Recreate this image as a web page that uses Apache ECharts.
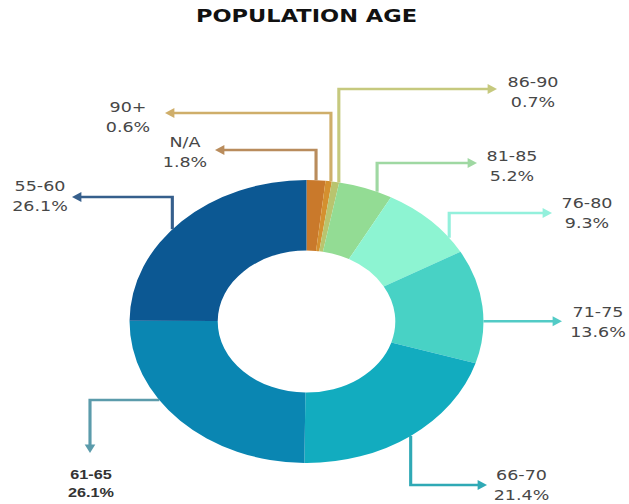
<!DOCTYPE html>
<html>
<head>
<meta charset="utf-8">
<title>Population Age</title>
<script src="https://cdn.jsdelivr.net/npm/echarts@6/dist/echarts.min.js"></script>
<style>
  html, body { margin: 0; padding: 0; background: #ffffff; overflow: hidden; }
  /* the drawing is laid out on a 503px wide canvas and stretched to 629px */
  #chart { width: 503px; height: 504px; transform: scaleX(1.2505); transform-origin: 0 0; }
</style>
</head>
<body>
<div id="chart"></div>
<script>
// ---- data ----
const chartTitle = 'POPULATION AGE';
const categories = ['N/A', '90+', '86-90', '81-85', '76-80', '71-75', '66-70', '61-65', '55-60'];
const shares     = [1.8, 0.6, 0.7, 5.2, 9.3, 13.6, 21.4, 26.1, 26.1];

// ---- styles ----
const sliceColors  = ['#c9792b', '#d4902f', '#b9c46e', '#93dc94', '#8df4d2', '#48d2c5', '#12acbf', '#0a86b2', '#0c5893'];
const leaderColors = ['#b98c5c', '#cfae6a', '#c6c97e', '#9fd8a2', '#93f0dc', '#52cbc6', '#2fa9b5', '#5b9bab', '#365f8c'];

// horizontal stretch of the page (see #chart transform)
const SX = 629 / 503;

// Leader routing, in page pixels:
//  t      - where on the slice's outer arc the leader starts (0..1 along the slice)
//  route  - 'vh' vertical then horizontal, 'h' horizontal only, 'hv' horizontal then down
//  turn   - y of the horizontal run ('vh') or x of the vertical run ('hv')
//  tip    - arrow tip x ('vh', 'h') or y ('hv')
//  label  - centre of the two-line label
const leaders = [
  { t: 0.50, route: 'vh', turn: 150, tip: 215, label: [185, 152.5] },
  { t: 0.85, route: 'vh', turn: 113, tip: 165, label: [128, 117] },
  { t: 0.95, route: 'vh', turn: 89,  tip: 497, label: [533, 92] },
  { t: 0.72, route: 'vh', turn: 163, tip: 477, label: [512, 166.5] },
  { t: 0.79, route: 'vh', turn: 213, tip: 552, label: [587, 213] },
  { t: 0.63, route: 'h',               tip: 562, label: [598, 322] },
  { t: 0.50, route: 'vh', turn: 485, tip: 487, label: [521.5, 485] },
  { t: 0.62, route: 'hv', turn: 90,  tip: 453, label: [91, 483.5] },
  { t: 0.45, route: 'vh', turn: 197, tip: 72,  label: [40, 196.5] }
];

const pieCenter = [306.5 / SX, 321.5];
const pieRadius = [71, 141.5];

const chart = echarts.init(document.getElementById('chart'), null, { renderer: 'svg' });

const pieData = categories.map((name, i) => {
  const item = { name: name, value: shares[i], itemStyle: { color: sliceColors[i] } };
  if (name === '61-65') {
    item.label = { fontFamily: '"Liberation Sans", Arial, sans-serif', fontWeight: 'bold', fontSize: 13, color: '#333333', lineHeight: 18 };
  }
  return item;
});

chart.setOption({
  animation: false,
  backgroundColor: '#ffffff',
  series: [{
    type: 'pie',
    center: pieCenter,
    radius: pieRadius,
    startAngle: 90,
    clockwise: true,
    avoidLabelOverlap: false,
    silent: true,
    itemStyle: { borderWidth: 0 },
    emphasis: { disabled: true },
    label: {
      show: true,
      position: 'outside',
      formatter: '{b}\n{c}%',
      fontFamily: '"DejaVu Sans", sans-serif',
      fontSize: 14,
      color: '#474747',
      lineHeight: 20
    },
    labelLine: { show: false },
    labelLayout: function (params) {
      const L = leaders[params.dataIndex];
      return { x: L.label[0] / SX, y: L.label[1], align: 'center', verticalAlign: 'middle' };
    },
    data: pieData
  }]
});

// slice geometry from the pie layout
function sliceLayout(i) {
  try {
    const lay = chart.getModel().getSeriesByIndex(0).getData().getItemLayout(i);
    if (lay && isFinite(lay.startAngle)) return lay;
  } catch (e) { /* fall through */ }
  const total = shares.reduce((a, b) => a + b, 0);
  let acc = 0;
  for (let k = 0; k < i; k++) acc += shares[k];
  const a0 = -Math.PI / 2 + acc / total * Math.PI * 2;
  return { cx: pieCenter[0], cy: pieCenter[1], r: pieRadius[1], startAngle: a0, endAngle: a0 + shares[i] / total * Math.PI * 2 };
}

const graphics = [{
  type: 'text',
  x: pieCenter[0],
  y: 16,
  silent: true,
  style: {
    text: chartTitle,
    fontFamily: '"DejaVu Sans", sans-serif',
    fontWeight: 'bold',
    fontSize: 18,
    fill: '#111111',
    align: 'center',
    verticalAlign: 'middle',
    textAlign: 'center',
    textVerticalAlign: 'middle'
  }
}];

const ARROW_LEN = 7.5, ARROW_HALF = 5;

leaders.forEach((L, i) => {
  const lay = sliceLayout(i);
  const a = lay.startAngle + L.t * (lay.endAngle - lay.startAngle);
  const ax = lay.cx + lay.r * Math.cos(a);
  const ay = lay.cy + lay.r * Math.sin(a);
  let pts, tip, dir;
  if (L.route === 'vh') {
    const tx = L.tip / SX;
    dir = [Math.sign(tx - ax), 0];
    tip = [tx, L.turn];
    pts = [[ax, ay], [ax, L.turn]];
  } else if (L.route === 'h') {
    const tx = L.tip / SX;
    dir = [Math.sign(tx - ax), 0];
    tip = [tx, ay];
    pts = [[ax, ay]];
  } else {
    const vx = L.turn / SX;
    dir = [0, 1];
    tip = [vx, L.tip];
    pts = [[ax, ay], [vx, ay]];
  }
  const len = dir[1] ? ARROW_LEN + 1 : ARROW_LEN;
  const base = [tip[0] - dir[0] * len, tip[1] - dir[1] * len];
  pts.push([tip[0] - dir[0] * (len - 1), tip[1] - dir[1] * (len - 1)]);
  const half = dir[1] ? ARROW_HALF * 0.85 : ARROW_HALF;
  const perp = [-dir[1] * half, dir[0] * half];

  graphics.push({
    type: 'polyline',
    silent: true,
    z: 10,
    shape: { points: pts },
    style: { stroke: leaderColors[i], lineWidth: 2.5, fill: null, lineJoin: 'miter' }
  });
  graphics.push({
    type: 'polygon',
    silent: true,
    z: 10,
    shape: { points: [tip, [base[0] + perp[0], base[1] + perp[1]], [base[0] - perp[0], base[1] - perp[1]]] },
    style: { fill: leaderColors[i] }
  });
});

chart.setOption({ graphic: graphics });
</script>
</body>
</html>
